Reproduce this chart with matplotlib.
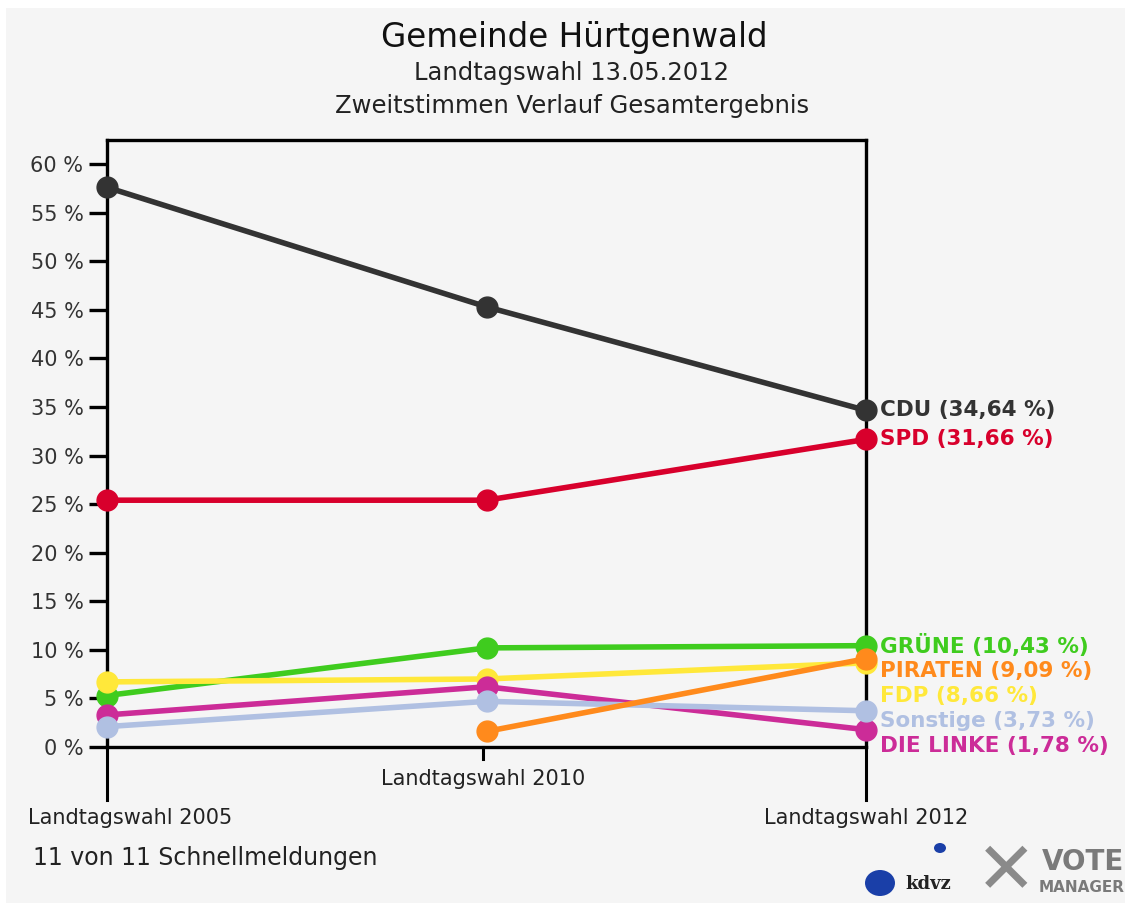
import matplotlib.pyplot as plt
from matplotlib.patches import Rectangle, Ellipse

# election columns
wahlen = ['Landtagswahl 2005', 'Landtagswahl 2010', 'Landtagswahl 2012']
yticks = [0, 5, 10, 15, 20, 25, 30, 35, 40, 45, 50, 55, 60]
ytick_labels = ['%d %%' % v for v in yticks]

# second-vote shares (%), None = not running
cdu = [57.6, 45.3, 34.64]
spd = [25.4, 25.4, 31.66]
gruene = [5.3, 10.2, 10.43]
fdp = [6.7, 7.0, 8.66]
linke = [3.3, 6.2, 1.78]
sonstige = [2.1, 4.7, 3.73]
piraten = [None, 1.6, 9.09]

parteien = ['CDU', 'SPD', 'GRÜNE', 'PIRATEN', 'FDP', 'Sonstige', 'DIE LINKE']
werte = [cdu, spd, gruene, piraten, fdp, sonstige, linke]
farben = ['#333333', '#d8002c', '#3fcc1e', '#ff8a1c', '#ffe83a', '#b0c0e2', '#cc2c98']
zorder = [9, 8, 3, 7, 4, 6, 5]

bg = '#f5f5f5'
fig = plt.figure(figsize=(11.33, 9.11), dpi=100)
fig.patch.set_facecolor('white')
fig.patches.append(Rectangle((6 / 1133, 8 / 911), 1 - 14 / 1133, 1 - 16 / 911,
                             transform=fig.transFigure, facecolor=bg,
                             edgecolor='none', zorder=-10))

ax = fig.add_axes([107 / 1133, 1 - 747 / 911, (866 - 107) / 1133, (747 - 140) / 911])
ax.set_facecolor(bg)
ax.set_xlim(0, 2)
ax.set_ylim(0, 62.47)

for name, vals, col, z in zip(parteien, werte, farben, zorder):
    xs = [i for i, v in enumerate(vals) if v is not None]
    ys = [v for v in vals if v is not None]
    ax.plot(xs, ys, color=col, lw=4, marker='o', ms=15, mec=col,
            solid_capstyle='round', zorder=z, clip_on=False)

# labels on the right, pushed apart so they don't overlap
step = 2.57
prev = None
for name, vals, col in zip(parteien, werte, farben):
    v = vals[-1]
    pos = v if prev is None else min(v, prev - step)
    prev = pos
    txt = '%s (%s %%)' % (name, ('%.2f' % v).replace('.', ','))
    ax.annotate(txt, xy=(2, pos), xytext=(14, 0), textcoords='offset pixels',
                color=col, fontsize=15.5, fontweight='bold',
                ha='left', va='center', annotation_clip=False)

for s in ax.spines.values():
    s.set_linewidth(2.4)
    s.set_color('black')

ax.set_yticks(yticks)
ax.set_yticklabels(ytick_labels, fontsize=15, color='#333333')
ax.tick_params(axis='y', direction='out', length=13, width=2.4, pad=4)
ax.set_xticks([])

# extended lines / ticks below the axis
ax.plot([0, 0], [0, -0.087], transform=ax.transAxes, color='black', lw=2.2, clip_on=False)
ax.plot([1, 1], [0, -0.087], transform=ax.transAxes, color='black', lw=2.2, clip_on=False)
ax.plot([0.496, 0.496], [0, -0.02], transform=ax.transAxes, color='black', lw=2.2, clip_on=False)

ax.annotate(wahlen[0], xy=(0, 0), xycoords=('data', 'axes fraction'),
            xytext=(-79, -71), textcoords='offset pixels', fontsize=15,
            color='#222222', ha='left', va='center')
ax.annotate(wahlen[1], xy=(1, 0), xycoords=('data', 'axes fraction'),
            xytext=(-3, -32), textcoords='offset pixels', fontsize=15,
            color='#222222', ha='center', va='center')
ax.annotate(wahlen[2], xy=(2, 0), xycoords=('data', 'axes fraction'),
            xytext=(0, -71), textcoords='offset pixels', fontsize=15,
            color='#222222', ha='center', va='center')

fig.text(574 / 1133, 1 - 38 / 911, 'Gemeinde Hürtgenwald', fontsize=23.5,
         ha='center', va='center', color='#111111')
fig.text(572 / 1133, 1 - 73 / 911, 'Landtagswahl 13.05.2012', fontsize=17.5,
         ha='center', va='center', color='#222222')
fig.text(572 / 1133, 1 - 106 / 911, 'Zweitstimmen Verlauf Gesamtergebnis', fontsize=17.5,
         ha='center', va='center', color='#222222')
fig.text(33 / 1133, 1 - 858 / 911, '11 von 11 Schnellmeldungen', fontsize=17,
         ha='left', va='center', color='#222222')

# rough stand-ins for the logos
fig.patches.append(Ellipse((880 / 1133, 1 - 883 / 911), 30 / 1133, 26 / 911,
                           transform=fig.transFigure, facecolor='#1a3fa8', edgecolor='none'))
fig.patches.append(Ellipse((940 / 1133, 1 - 848 / 911), 12 / 1133, 10 / 911,
                           transform=fig.transFigure, facecolor='#1a3fa8', edgecolor='none'))
fig.text(905 / 1133, 1 - 884 / 911, 'kdvz', fontsize=13, fontweight='bold',
         family='DejaVu Serif', ha='left', va='center', color='#222222')
fig.text(1006 / 1133, 1 - 874 / 911, '✕', fontsize=52, fontweight='bold',
         ha='center', va='center', color='#8a8a8a')
fig.text(1083 / 1133, 1 - 862 / 911, 'VOTE', fontsize=20, fontweight='bold',
         ha='center', va='center', color='#7a7a7a')
fig.text(1082 / 1133, 1 - 888 / 911, 'MANAGER', fontsize=11, fontweight='bold',
         ha='center', va='center', color='#7a7a7a')

fig.savefig('out.png', dpi=100, facecolor=fig.get_facecolor())
